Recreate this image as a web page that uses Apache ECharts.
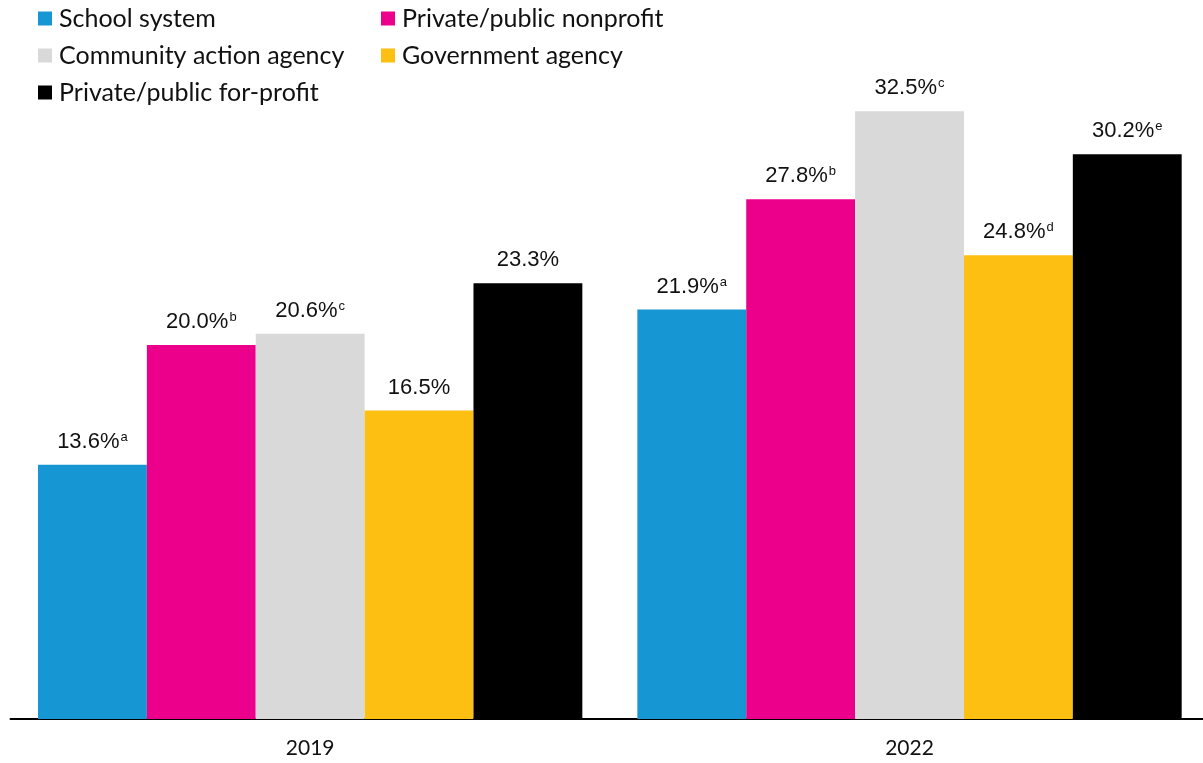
<!DOCTYPE html>
<html>
<head>
<meta charset="utf-8">
<script src="https://cdn.jsdelivr.net/npm/echarts@6/dist/echarts.min.js"></script>
<style>
  html, body { margin: 0; padding: 0; background: #ffffff; }
  #chart { width: 1203px; height: 763px; }
</style>
</head>
<body>
<div id="chart"></div>
<script>
// Survey years on the x axis
const years = ['2019', '2022'];

// Provider types, in legend order
const seriesNames = [
  'School system',
  'Private/public nonprofit',
  'Community action agency',
  'Government agency',
  'Private/public for-profit'
];

// Shares (%) by provider type, one value per year
const schoolSystem = [13.6, 21.9];
const privateNonprofit = [20.0, 27.8];
const communityAction = [20.6, 32.5];
const governmentAgency = [16.5, 24.8];
const privateForProfit = [23.3, 30.2];

// Significance-note letters printed after each value
const schoolNotes = ['a', 'a'];
const nonprofitNotes = ['b', 'b'];
const communityNotes = ['c', 'c'];
const governmentNotes = ['', 'd'];
const forProfitNotes = ['', 'e'];

const colors = ['#1696d2', '#ec008b', '#d9d9d9', '#fdbf11', '#000000'];

const values = [schoolSystem, privateNonprofit, communityAction, governmentAgency, privateForProfit];
const notes = [schoolNotes, nonprofitNotes, communityNotes, governmentNotes, forProfitNotes];

const LATO = 'Lato, "Noto Sans", sans-serif';
const SANS = '"Liberation Sans", Arial, sans-serif';

const series = seriesNames.map((name, i) => ({
  name: name,
  type: 'bar',
  barGap: '0%',
  barCategoryGap: '9.18%',
  itemStyle: { color: colors[i] },
  data: values[i].map((v, j) => ({ value: v, note: notes[i][j] })),
  label: {
    show: true,
    position: 'top',
    distance: 12,
    formatter: p => {
      const note = p.data.note;
      const main = '{v|' + p.value.toFixed(1) + '%}';
      return note ? main + '{s|' + note + '}' : main;
    },
    rich: {
      v: { fontFamily: SANS, fontSize: 22, color: '#111111', lineHeight: 22 },
      s: { fontFamily: SANS, fontSize: 13, color: '#111111', lineHeight: 22, verticalAlign: 'top', padding: [0, 0, 9, 1] }
    }
  }
}));

const chart = echarts.init(document.getElementById('chart'), null, { renderer: 'canvas' });
chart.setOption({
  animation: false,
  color: colors,
  legend: {
    left: 38,
    top: 0,
    padding: 0,
    width: 720,
    orient: 'horizontal',
    itemWidth: 14,
    itemHeight: 14,
    itemGap: 0,
    icon: 'rect',
    data: seriesNames,
    textStyle: {
      fontFamily: LATO,
      fontSize: 25,
      color: '#111111',
      width: 322,
      padding: [0, 0, 0, 2],
      lineHeight: 37
    }
  },
  grid: {
    left: 10.5,
    width: 1198.7,
    top: 64.5,
    bottom: 44,
    containLabel: false,
    outerBoundsMode: 'none'
  },
  xAxis: {
    type: 'category',
    data: years,
    axisLine: { show: true, lineStyle: { color: '#000000', width: 2 } },
    axisTick: { show: false },
    axisLabel: { fontFamily: LATO, fontSize: 21, color: '#111111', margin: 19 }
  },
  yAxis: {
    type: 'value',
    min: 0,
    max: 35,
    show: false,
    splitLine: { show: false }
  },
  series: series
});
</script>
</body>
</html>
